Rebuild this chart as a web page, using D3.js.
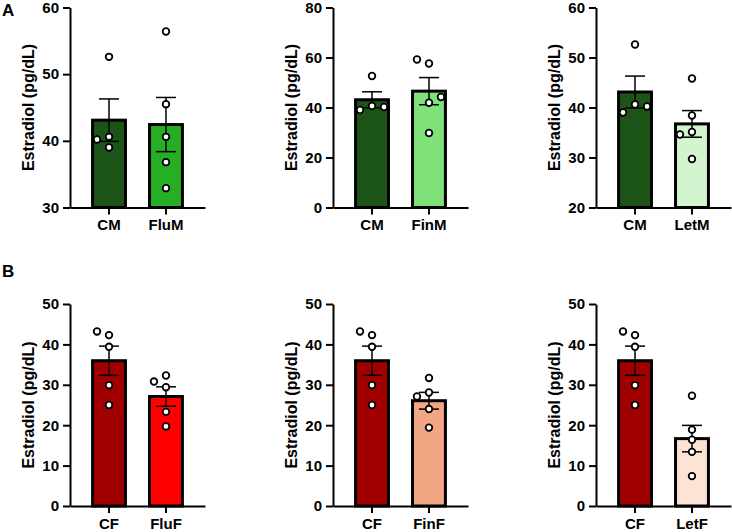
<!DOCTYPE html>
<html lang="en">
<head>
<meta charset="UTF-8">
<title>Estradiol by group</title>
<script src="https://d3js.org/d3.v7.min.js"></script>
<style>
  body { margin: 0; background: #fff; }
  svg { display: block; font-family: Arial, "Liberation Sans", sans-serif; }
</style>
</head>
<body>
<div id="chart"></div>
<script>
// individual animals, estradiol in pg/dL
// (order inside each array only decides how overlapping dots get nudged sideways)
const CM   = [52.6, 40.6, 39.0, 40.2];
const FluM = [56.4, 45.5, 40.6, 36.8, 32.9];
const FinM = [57.6, 59.2, 41.9, 44.2, 29.8];
const LetM = [45.8, 38.4, 35.1, 34.6, 29.7];
const CF   = [42.3, 43.2, 39.4, 29.9, 25.0];
const FluF = [32.3, 29.4, 30.8, 23.3, 19.7];
const FinF = [31.7, 28.1, 27.1, 24.0, 19.4];
const LetF = [27.3, 18.9, 16.4, 13.4, 7.4];

const maleControl = "CM";
const femaleControl = "CF";
const maleTreated = ["FluM", "FinM", "LetM"];
const femaleTreated = ["FluF", "FinF", "LetF"];

const yDomainsA = [[30, 60], [0, 80], [20, 60]];
const yTicksA = [[30, 40, 50, 60], [0, 20, 40, 60, 80], [20, 30, 40, 50, 60]];
const yDomainB = [0, 50];
const yTicksB = [0, 10, 20, 30, 40, 50];

const values = { CM, FluM, FinM, LetM, CF, FluF, FinF, LetF };

const fills = {
  CM: "#1c5517", FluM: "#27ae27", FinM: "#80e07a", LetM: "#d2f5d0",
  CF: "#a10000", FluF: "#ff0000", FinF: "#f2a683", LetF: "#fde2d6"
};

const width = 732, height = 532;
const plotW = 135;
const axisX = [70, 333, 596];
const rowA = [7.5, 207.5], rowB = [304, 506];

const svg = d3.select("#chart").append("svg")
  .attr("width", width)
  .attr("height", height);

svg.append("text").attr("x", 2).attr("y", 16)
  .attr("font-size", 17).attr("font-weight", "bold").text("A");
svg.append("text").attr("x", 2).attr("y", 277)
  .attr("font-size", 17).attr("font-weight", "bold").text("B");

maleTreated.forEach((t, i) => {
  drawPanel([maleControl, t], yDomainsA[i], yTicksA[i], axisX[i], rowA);
});
femaleTreated.forEach((t, i) => {
  drawPanel([femaleControl, t], yDomainB, yTicksB, axisX[i], rowB);
});

function drawPanel(groups, domain, ticks, x0, row) {
  const g = svg.append("g").attr("transform", `translate(${x0},${row[0]})`);
  const h = row[1] - row[0];

  const x = d3.scaleBand().domain(groups).range([0, plotW]).padding(0.37);
  const y = d3.scaleLinear().domain(domain).range([h, 0]);

  // y label
  g.append("text")
    .attr("transform", `translate(-36,${h / 2}) rotate(-90)`)
    .attr("text-anchor", "middle")
    .attr("font-size", 16)
    .attr("font-weight", "bold")
    .text("Estradiol (pg/dL)");

  // bars
  const stats = groups.map(k => {
    const v = values[k];
    return { key: k, mean: d3.mean(v), sem: d3.deviation(v) / Math.sqrt(v.length) };
  });

  g.selectAll("rect.bar").data(stats).join("rect")
    .attr("class", "bar")
    .attr("x", d => x(d.key) + 1.5)
    .attr("width", x.bandwidth() - 3)
    .attr("y", d => y(d.mean))
    .attr("height", d => y(domain[0]) - y(d.mean))
    .attr("fill", d => fills[d.key])
    .attr("stroke", "#000")
    .attr("stroke-width", 3);

  // mean +/- SEM
  const cap = 10;
  stats.forEach(d => {
    const cx = x(d.key) + x.bandwidth() / 2;
    const eb = g.append("g").attr("stroke", "#000").attr("stroke-width", 1.5);
    eb.append("line").attr("x1", cx).attr("x2", cx)
      .attr("y1", y(d.mean - d.sem)).attr("y2", y(d.mean + d.sem));
    [d.mean - d.sem, d.mean + d.sem].forEach(v => {
      eb.append("line").attr("x1", cx - cap).attr("x2", cx + cap)
        .attr("y1", y(v)).attr("y2", y(v));
    });
  });

  // dots, nudged sideways when they would overlap
  const step = 12, minDist = 8.5;
  groups.forEach(k => {
    const cx = x(k) + x.bandwidth() / 2;
    const placed = [];
    let flips = 0;
    values[k].forEach(v => {
      const py = y(v);
      const tries = flips % 2 === 0 ? [0, -step, step, -2 * step, 2 * step]
                                    : [0, step, -step, 2 * step, -2 * step];
      let off = tries.find(o => !placed.some(p => Math.abs(p.off - o) < step / 2 && Math.abs(p.y - py) < minDist));
      if (off === undefined) off = 0;
      if (off !== 0) flips++;
      placed.push({ off, y: py });
    });
    g.selectAll(null).data(placed).join("circle")
      .attr("cx", d => cx + d.off)
      .attr("cy", d => d.y)
      .attr("r", 3.3)
      .attr("fill", "#fff")
      .attr("stroke", "#000")
      .attr("stroke-width", 1.8);
  });

  // axes
  const yAxis = g.append("g")
    .call(d3.axisLeft(y).tickValues(ticks).tickSize(7).tickPadding(4).tickSizeOuter(0));
  const xAxis = g.append("g")
    .attr("transform", `translate(0,${h})`)
    .call(d3.axisBottom(x).tickSize(7).tickPadding(5).tickSizeOuter(0));

  [yAxis, xAxis].forEach(a => {
    a.select(".domain").attr("stroke", "#000").attr("stroke-width", 2);
    a.selectAll(".tick line").attr("stroke", "#000").attr("stroke-width", 2);
    a.selectAll(".tick text")
      .attr("fill", "#000")
      .attr("font-size", 15)
      .attr("font-weight", "bold")
      .attr("font-family", "Arial, 'Liberation Sans', sans-serif");
  });
}
</script>
</body>
</html>
